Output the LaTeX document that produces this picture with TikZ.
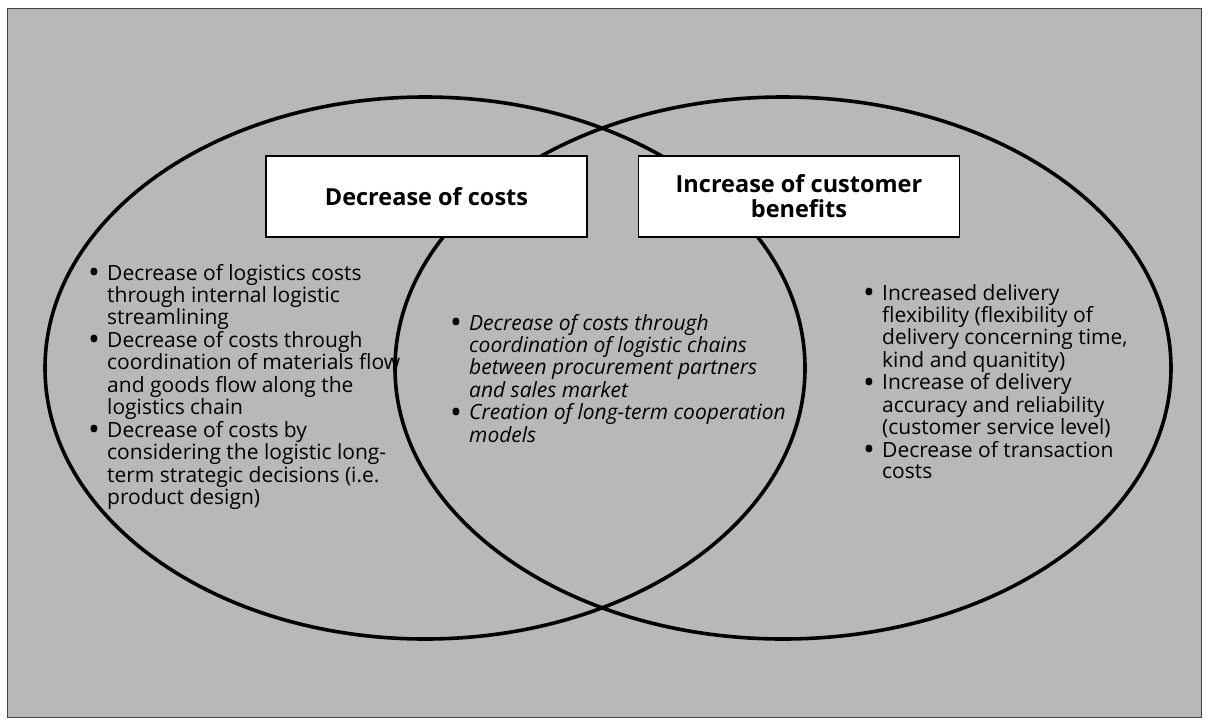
\documentclass[tikz,border=0pt]{standalone}
\usepackage{fontspec}
\setmainfont{Open Sans}
\usepackage{array}
\definecolor{bggray}{gray}{0.72}
\newcommand\listfont{\fontsize{21}{21.5}\selectfont}
\newcommand\titlefont{\fontsize{23.5}{25}\selectfont\bfseries}
\newcommand\bul{\raisebox{-3.5pt}{\scalebox{1.5}{\upshape\textbullet}}}
\tikzset{
  frame/.style={fill=bggray, draw=black!75, line width=0.8pt},
  venn/.style={draw=black, line width=3.6pt},
  titlebox/.style={draw=black, line width=1.5pt, fill=white, minimum width=321pt,
    minimum height=81pt, inner sep=0pt, align=center, font=\titlefont},
  textlist/.style={anchor=base west, inner sep=0pt, font=\listfont}
}
\begin{document}
\begin{tikzpicture}[x=1pt,y=-1pt]
\useasboundingbox (0,0) rectangle (1210,721);
\fill[white] (0,0) rectangle (1210,721);
\draw[frame] (7,8) rectangle (1201,717);
% Venn ellipses
\draw[venn] (425,368) ellipse [x radius=380pt, y radius=271pt];
\draw[venn] (783,368) ellipse [x radius=388pt, y radius=271pt];
% title boxes
\node[titlebox] (costs) at (426.5,196.5) {Decrease of costs};
\node[titlebox] (benefits) at (799,196.5) {Increase of customer\\benefits};
% left list
\node[textlist] (leftlist) at (88,280) {\begin{tabular}[t]{@{}p{19pt}@{}l@{}}
\bul & Decrease of logistics costs\\
 & through internal logistic\\
 & streamlining\\
\bul & Decrease of costs through\\
 & coordination of materials flow\\
 & and goods flow along the\\
 & logistics chain\\
\bul & Decrease of costs by\\
 & considering the logistic long-\\
 & term strategic decisions (i.e.\\
 & product design)
\end{tabular}};
% middle list
\node[textlist] (midlist) at (450,330) {\begin{tabular}[t]{@{}p{19pt}@{}>{\itshape}l@{}}
\bul & Decrease of costs through\\
 & coordination of logistic chains\\
 & between procurement partners\\
 & and sales market\\
\bul & Creation of long-term cooperation\\
 & models
\end{tabular}};
% right list
\node[textlist] (rightlist) at (863,300) {\begin{tabular}[t]{@{}p{19pt}@{}l@{}}
\bul & Increased delivery\\
 & flexibility (flexibility of\\
 & delivery concerning time,\\
 & kind and quanitity)\\
\bul & Increase of delivery\\
 & accuracy and reliability\\
 & (customer service level)\\
\bul & Decrease of transaction\\
 & costs
\end{tabular}};
\end{tikzpicture}
\end{document}
